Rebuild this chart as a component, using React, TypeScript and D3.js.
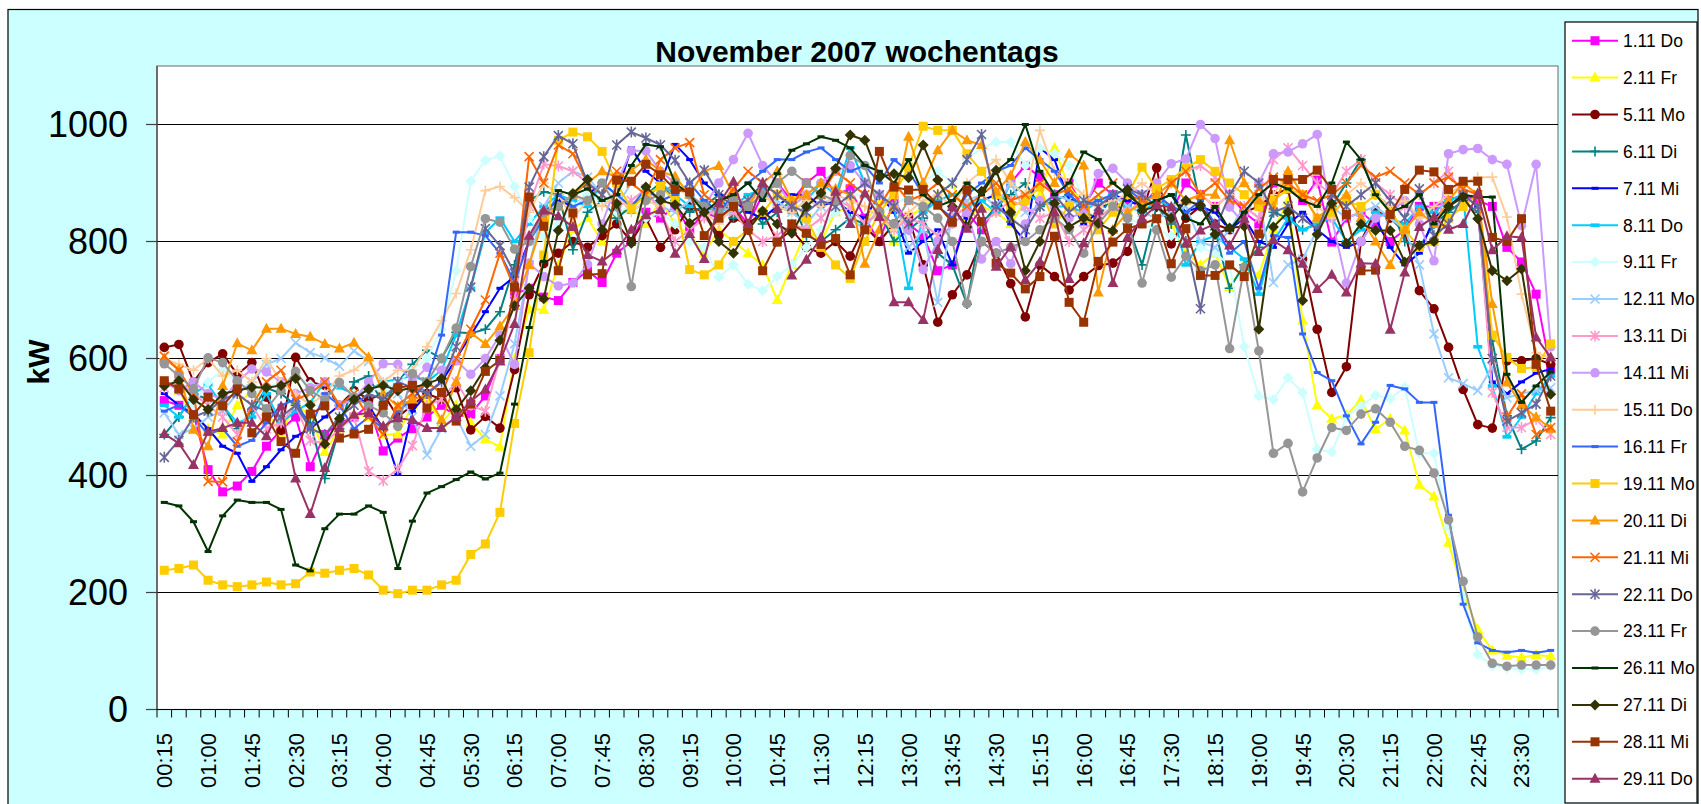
import * as d3 from "d3";

const times = [
  "00:15", "00:30", "00:45", "01:00", "01:15", "01:30", "01:45", "02:00", "02:15", "02:30", "02:45", "03:00",
  "03:15", "03:30", "03:45", "04:00", "04:15", "04:30", "04:45", "05:00", "05:15", "05:30", "05:45", "06:00",
  "06:15", "06:30", "06:45", "07:00", "07:15", "07:30", "07:45", "08:00", "08:15", "08:30", "08:45", "09:00",
  "09:15", "09:30", "09:45", "10:00", "10:15", "10:30", "10:45", "11:00", "11:15", "11:30", "11:45", "12:00",
  "12:15", "12:30", "12:45", "13:00", "13:15", "13:30", "13:45", "14:00", "14:15", "14:30", "14:45", "15:00",
  "15:15", "15:30", "15:45", "16:00", "16:15", "16:30", "16:45", "17:00", "17:15", "17:30", "17:45", "18:00",
  "18:15", "18:30", "18:45", "19:00", "19:15", "19:30", "19:45", "20:00", "20:15", "20:30", "20:45", "21:00",
  "21:15", "21:30", "21:45", "22:00", "22:15", "22:30", "22:45", "23:00", "23:15", "23:30", "23:45", "00:00",
];

const yTicks = [0, 200, 400, 600, 800, 1000];

const days = [
  "1.11 Do", "2.11 Fr", "5.11 Mo", "6.11 Di", "7.11 Mi", "8.11 Do", "9.11 Fr",
  "12.11 Mo", "13.11 Di", "14.11 Mi", "15.11 Do", "16.11 Fr", "19.11 Mo", "20.11 Di",
  "21.11 Mi", "22.11 Do", "23.11 Fr", "26.11 Mo", "27.11 Di", "28.11 Mi", "29.11 Do",
];

// kW per 15 minutes, 00:15 .. 24:00
const d0111 = [
  528, 520, 505, 410, 372, 382, 407, 450, 478, 500, 415, 470, 490, 500, 520, 442, 464, 480, 500, 520, 500, 505, 536, 600,
  710, 720, 705, 699, 730, 750, 730, 780, 800, 850, 840, 860, 820, 850, 840, 860, 830, 880, 900, 870, 900, 920, 880, 890,
  840, 800, 870, 830, 810, 750, 760, 850, 820, 860, 900, 930, 910, 880, 900, 860, 900, 880, 870, 860, 890, 850, 900, 880,
  860, 880, 850, 830, 900, 890, 870, 905, 799, 840, 850, 830, 800, 820, 860, 860, 870, 880, 870, 860, 790, 765, 710, 580,
];
const d0211 = [
  560, 545, 500, 480, 470, 520, 545, 510, 470, 525, 500, 440, 480, 505, 500, 470, 470, 520, 530, 490, 520, 490, 462, 449,
  600, 685, 683, 760, 820, 840, 800, 845, 860, 830, 870, 830, 810, 780, 820, 800, 780, 760, 700, 760, 820, 800, 850, 860,
  830, 870, 800, 840, 860, 880, 900, 840, 860, 850, 830, 870, 880, 960, 890, 870, 870, 860, 840, 880, 900, 830, 780, 760,
  780, 722, 760, 742, 820, 870, 665, 520, 497, 503, 529, 479, 497, 477, 384, 364, 285, 200, 137, 101, 92, 89, 93, 91,
];
const d0511 = [
  619, 624, 560, 593, 608, 573, 593, 534, 477, 602, 560, 554, 520, 545, 530, 540, 500, 520, 540, 530, 550, 478, 501, 481,
  581, 709, 762, 780, 800, 790, 810, 830, 800, 840, 790, 820, 860, 850, 810, 840, 830, 850, 800, 820, 790, 780, 800, 775,
  826, 800, 830, 842, 760, 662, 709, 743, 800, 780, 728, 671, 760, 740, 717, 740, 759, 763, 783, 850, 926, 796, 840, 860,
  830, 820, 850, 860, 880, 890, 770, 650, 542, 586, 800, 853, 840, 816, 716, 685, 619, 547, 487, 481, 596, 596, 600, 590,
];
const d0611 = [
  470, 500, 540, 530, 520, 480, 510, 550, 540, 520, 490, 395, 480, 560, 570, 520, 560, 590, 614, 600, 645, 643, 650, 680,
  760, 870, 885, 880, 786, 850, 870, 840, 860, 880, 900, 870, 850, 860, 880, 840, 860, 830, 850, 870, 810, 800, 820, 840,
  830, 850, 800, 820, 840, 780, 760, 693, 830, 860, 880, 900, 860, 870, 880, 850, 840, 880, 830, 760, 860, 830, 982, 860,
  820, 720, 760, 790, 850, 840, 820, 830, 860, 900, 940, 880, 860, 800, 790, 830, 850, 870, 850, 630, 502, 445, 459, 499,
];
const d0711 = [
  540, 520, 505, 480, 450, 438, 390, 415, 444, 467, 480, 500, 520, 540, 520, 480, 402, 510, 540, 560, 600, 640, 680, 720,
  740, 800, 850, 870, 860, 880, 900, 880, 960, 920, 900, 966, 940, 900, 880, 870, 850, 840, 860, 880, 880, 860, 870, 850,
  840, 880, 850, 780, 800, 820, 760, 840, 870, 880, 830, 800, 960, 940, 870, 830, 850, 880, 870, 860, 870, 880, 850, 860,
  850, 820, 840, 800, 790, 830, 850, 820, 800, 790, 800, 840, 790, 760, 780, 840, 860, 880, 860, 560, 540, 560, 575, 582,
];
const d0811 = [
  520, 500, 540, 555, 520, 490, 500, 540, 490, 510, 525, 560, 550, 540, 545, 560, 565, 570, 560, 580, 640, 720, 815, 840,
  800, 830, 860, 880, 870, 860, 900, 880, 850, 870, 900, 880, 860, 870, 850, 860, 880, 890, 860, 850, 870, 900, 880, 960,
  900, 880, 860, 720, 850, 870, 880, 860, 870, 850, 900, 880, 870, 860, 860, 850, 870, 880, 860, 850, 870, 860, 760, 800,
  810, 790, 770, 710, 800, 840, 820, 830, 840, 800, 820, 850, 840, 830, 860, 850, 870, 880, 620, 553, 466, 500, 540, 570,
];
const d0911 = [
  560, 545, 520, 560, 580, 560, 540, 550, 560, 570, 555, 520, 560, 540, 550, 545, 560, 580, 600, 650, 750, 903, 939, 946,
  894, 840, 807, 830, 860, 880, 870, 850, 860, 840, 850, 830, 800, 790, 739, 760, 727, 716, 740, 760, 790, 820, 850, 880,
  880, 850, 860, 880, 900, 920, 900, 940, 960, 970, 970, 930, 960, 950, 930, 870, 860, 850, 840, 830, 820, 810, 800, 790,
  780, 760, 620, 536, 530, 567, 542, 445, 440, 500, 519, 537, 531, 551, 438, 438, 311, 194, 94, 75, 71, 69, 69, 74,
];
const d1211 = [
  507, 470, 480, 500, 510, 540, 560, 590, 600, 627, 610, 601, 587, 613, 595, 560, 540, 500, 435, 480, 500, 450, 470, 536,
  625, 760, 860, 900, 920, 910, 880, 860, 900, 880, 860, 850, 870, 860, 840, 850, 860, 880, 870, 850, 830, 860, 880, 840,
  820, 860, 880, 790, 820, 696, 850, 870, 880, 860, 900, 850, 860, 880, 870, 860, 870, 880, 860, 850, 840, 850, 860, 800,
  790, 820, 860, 880, 730, 760, 770, 820, 860, 840, 850, 860, 840, 820, 760, 642, 567, 557, 545, 585, 533, 540, 545, 550,
];
const d1311 = [
  550, 560, 540, 520, 500, 470, 520, 480, 490, 520, 460, 455, 480, 500, 407, 391, 411, 451, 520, 530, 560, 520, 510, 600,
  700, 860, 932, 929, 920, 900, 880, 860, 870, 890, 850, 800, 820, 840, 860, 850, 820, 800, 810, 830, 820, 840, 870, 860,
  830, 850, 820, 840, 830, 810, 840, 860, 830, 850, 870, 860, 840, 850, 800, 820, 840, 860, 850, 870, 880, 900, 920, 930,
  910, 880, 860, 840, 940, 960, 930, 900, 880, 920, 940, 900, 880, 860, 880, 900, 920, 880, 860, 542, 482, 482, 496, 470,
];
const d1411 = [
  560, 545, 560, 540, 530, 560, 582, 577, 560, 540, 550, 560, 520, 530, 560, 591, 590, 560, 585, 580, 596, 573, 600, 640,
  590, 763, 740, 724, 729, 761, 830, 900, 955, 955, 920, 900, 880, 860, 900, 940, 985, 930, 900, 860, 880, 900, 920, 930,
  900, 880, 860, 820, 752, 800, 830, 850, 770, 800, 762, 830, 870, 860, 840, 850, 916, 925, 900, 880, 900, 933, 941, 1000,
  976, 859, 830, 900, 950, 953, 967, 983, 840, 729, 800, 840, 850, 870, 830, 767, 950, 957, 959, 940, 932, 827, 932, 620,
];
const d1511 = [
  600, 590, 580, 600, 570, 580, 560, 600, 560, 540, 520, 540, 570, 580, 600, 560, 580, 580, 620, 665, 711, 786, 887, 894,
  875, 850, 900, 880, 840, 870, 860, 880, 850, 870, 860, 890, 880, 850, 830, 860, 870, 880, 860, 850, 870, 860, 880, 870,
  860, 840, 820, 850, 870, 880, 860, 900, 920, 940, 900, 880, 990, 920, 900, 880, 860, 870, 880, 900, 880, 860, 870, 880,
  860, 880, 900, 870, 880, 920, 880, 860, 840, 880, 900, 880, 860, 870, 840, 860, 880, 900, 910, 910, 842, 710, 610, 600,
];
const d1611 = [
  510, 520, 500, 470, 480, 450, 460, 490, 520, 530, 480, 540, 520, 480, 500, 480, 510, 530, 560, 640, 816, 816, 810, 780,
  730, 800, 840, 880, 860, 870, 900, 880, 860, 890, 870, 880, 900, 870, 850, 880, 900, 920, 940, 940, 953, 960, 940, 920,
  930, 900, 940, 920, 880, 860, 840, 880, 900, 920, 930, 960, 940, 920, 880, 860, 870, 880, 890, 870, 880, 860, 850, 870,
  830, 780, 800, 720, 810, 807, 642, 576, 562, 502, 454, 491, 554, 548, 525, 525, 332, 180, 114, 101, 98, 101, 97, 101,
];
const d1911 = [
  238, 241, 247, 221, 213, 210, 213, 218, 213, 215, 235, 233, 238, 241, 230, 204, 198, 204, 204, 213, 221, 265, 283, 337,
  489, 610, 777, 973, 987, 979, 954, 900, 856, 880, 894, 870, 752, 743, 760, 800, 820, 850, 880, 870, 840, 790, 760, 737,
  800, 850, 880, 927, 997, 990, 990, 950, 920, 880, 860, 870, 893, 830, 860, 840, 820, 850, 880, 927, 890, 906, 926, 940,
  920, 900, 880, 860, 870, 890, 880, 840, 850, 870, 860, 880, 850, 820, 790, 800, 840, 860, 880, 640, 602, 583, 585, 625,
];
const d2011 = [
  600, 581, 478, 450, 553, 626, 614, 651, 651, 642, 637, 625, 617, 627, 602, 540, 518, 530, 538, 495, 560, 644, 625, 655,
  690, 760, 840, 860, 880, 900, 920, 910, 922, 940, 920, 911, 880, 920, 929, 880, 860, 900, 920, 870, 880, 900, 890, 880,
  762, 820, 860, 979, 900, 956, 990, 973, 965, 885, 913, 970, 939, 900, 950, 930, 713, 820, 850, 865, 880, 900, 870, 880,
  880, 973, 900, 870, 860, 920, 880, 840, 860, 880, 840, 800, 760, 820, 850, 830, 870, 900, 880, 693, 559, 520, 500, 480,
];
const d2111 = [
  604, 580, 540, 390, 389, 458, 520, 560, 580, 530, 540, 560, 520, 540, 500, 470, 520, 540, 560, 540, 600, 650, 700, 780,
  720, 945, 900, 965, 950, 900, 880, 920, 900, 880, 940, 960, 969, 880, 860, 890, 920, 900, 880, 860, 900, 880, 920, 900,
  880, 860, 900, 870, 880, 900, 880, 860, 880, 900, 870, 880, 900, 880, 890, 860, 880, 900, 880, 870, 860, 900, 920, 880,
  900, 870, 860, 890, 910, 900, 880, 870, 880, 900, 930, 910, 920, 900, 880, 900, 910, 890, 880, 600, 500, 539, 470, 482,
];
const d2211 = [
  431, 460, 500, 510, 530, 540, 520, 510, 500, 520, 480, 470, 500, 520, 540, 530, 560, 550, 540, 560, 620, 722, 822, 793,
  746, 893, 945, 981, 967, 900, 880, 965, 987, 977, 965, 939, 900, 922, 880, 860, 870, 900, 880, 860, 850, 870, 860, 880,
  900, 880, 860, 830, 850, 880, 900, 940, 983, 860, 840, 820, 860, 880, 850, 870, 860, 880, 890, 880, 860, 840, 800, 685,
  820, 880, 920, 900, 850, 860, 840, 820, 880, 860, 880, 900, 870, 840, 890, 810, 830, 880, 860, 600, 493, 507, 522, 570,
];
const d2311 = [
  591, 570, 548, 601, 593, 562, 540, 514, 545, 578, 545, 530, 559, 534, 520, 507, 484, 574, 560, 600, 652, 757, 839, 833,
  787, 800, 850, 860, 880, 870, 900, 860, 723, 870, 880, 900, 880, 860, 850, 870, 860, 880, 900, 920, 900, 880, 870, 947,
  930, 850, 830, 870, 860, 840, 800, 694, 800, 780, 790, 800, 820, 840, 820, 780, 830, 860, 840, 729, 820, 739, 775, 750,
  760, 617, 756, 613, 438, 455, 372, 430, 482, 477, 505, 514, 491, 450, 443, 404, 324, 219, 124, 79, 74, 76, 76, 76,
];
const d2611 = [
  354, 348, 321, 270, 331, 358, 354, 354, 342, 247, 237, 309, 334, 334, 348, 337, 241, 322, 370, 381, 393, 406, 394, 404,
  522, 653, 766, 887, 880, 890, 870, 880, 930, 966, 962, 900, 880, 850, 870, 880, 900, 870, 916, 956, 967, 979, 973, 960,
  930, 920, 900, 940, 880, 860, 870, 900, 880, 920, 940, 1000, 920, 880, 900, 953, 940, 900, 880, 860, 870, 880, 840, 830,
  860, 820, 850, 880, 900, 890, 870, 860, 900, 970, 940, 880, 850, 860, 880, 830, 860, 880, 876, 876, 573, 525, 553, 577,
];
const d2711 = [
  553, 562, 530, 513, 540, 545, 551, 550, 554, 566, 520, 454, 497, 530, 548, 554, 545, 550, 557, 566, 513, 545, 584, 631,
  690, 720, 702, 819, 882, 906, 820, 865, 797, 893, 870, 863, 831, 850, 800, 780, 820, 852, 830, 814, 860, 883, 925, 982,
  973, 910, 916, 909, 965, 905, 860, 825, 886, 922, 850, 750, 800, 865, 825, 840, 831, 818, 889, 853, 860, 840, 870, 862,
  812, 823, 826, 650, 825, 850, 699, 812, 865, 797, 830, 819, 819, 765, 793, 800, 860, 876, 839, 750, 733, 753, 599, 539,
];
const d2811 = [
  562, 548, 504, 534, 519, 548, 473, 500, 458, 438, 505, 519, 464, 471, 479, 520, 550, 554, 515, 542, 493, 522, 578, 597,
  722, 876, 826, 750, 849, 743, 745, 905, 903, 932, 914, 889, 885, 810, 840, 860, 820, 750, 799, 830, 814, 795, 805, 743,
  820, 954, 893, 888, 889, 862, 833, 888, 834, 763, 746, 719, 740, 809, 696, 662, 766, 799, 822, 830, 839, 762, 822, 742,
  742, 760, 740, 813, 906, 906, 906, 922, 889, 846, 750, 751, 846, 889, 922, 919, 889, 903, 903, 807, 800, 839, 590, 510,
];
const d2911 = [
  471, 455, 418, 475, 481, 490, 490, 467, 518, 395, 334, 413, 481, 504, 507, 484, 498, 495, 481, 481, 500, 527, 547, 595,
  659, 810, 853, 843, 825, 777, 766, 785, 820, 845, 854, 779, 813, 770, 865, 902, 830, 900, 856, 742, 769, 807, 885, 830,
  882, 842, 696, 696, 666, 786, 859, 822, 856, 757, 791, 734, 765, 850, 736, 797, 853, 729, 807, 839, 862, 859, 796, 819,
  830, 793, 839, 782, 802, 785, 762, 719, 743, 713, 763, 762, 649, 747, 825, 842, 820, 830, 882, 785, 809, 807, 636, 602,
];

const values = [
  d0111, d0211, d0511, d0611, d0711, d0811, d0911, d1211, d1311, d1411, d1511,
  d1611, d1911, d2011, d2111, d2211, d2311, d2611, d2711, d2811, d2911,
];

const colors = [
  "#FF00FF", "#FFFF00", "#800000", "#008080", "#0000FF", "#00CCFF", "#CCFFFF",
  "#99CCFF", "#FF99CC", "#CC99FF", "#FFCC99", "#3366FF", "#FFCC00", "#FF9900",
  "#FF6600", "#666699", "#969696", "#003300", "#333300", "#993300", "#993366",
];
const markers = [
  "square", "triangle", "circle", "plus", "dash", "bar", "diamond",
  "x", "star", "circle", "plus", "dash", "square", "triangle",
  "x", "star", "circle", "dash", "diamond", "square", "triangle",
];

const FONT = "Arial, 'Liberation Sans', sans-serif";

function Marker({ kind, cx, cy, color }: { kind: string; cx: number; cy: number; color: string }) {
  switch (kind) {
    case "square":
      return <rect x={cx - 4.5} y={cy - 4.5} width={9} height={9} fill={color} />;
    case "triangle":
      return <path d={`M${cx},${cy - 6}L${cx + 5.5},${cy + 4}L${cx - 5.5},${cy + 4}Z`} fill={color} />;
    case "circle":
      return <circle cx={cx} cy={cy} r={4.8} fill={color} />;
    case "diamond":
      return <path d={`M${cx},${cy - 5.5}L${cx + 5.5},${cy}L${cx},${cy + 5.5}L${cx - 5.5},${cy}Z`} fill={color} />;
    case "plus":
      return <path d={`M${cx - 5},${cy}H${cx + 5}M${cx},${cy - 5}V${cy + 5}`} stroke={color} strokeWidth={1.6} />;
    case "x":
      return <path d={`M${cx - 4.5},${cy - 4.5}L${cx + 4.5},${cy + 4.5}M${cx - 4.5},${cy + 4.5}L${cx + 4.5},${cy - 4.5}`} stroke={color} strokeWidth={1.6} />;
    case "star":
      return <path d={`M${cx - 4.5},${cy - 4.5}L${cx + 4.5},${cy + 4.5}M${cx - 4.5},${cy + 4.5}L${cx + 4.5},${cy - 4.5}M${cx},${cy - 5.5}V${cy + 5.5}`} stroke={color} strokeWidth={1.6} />;
    case "dash":
      return <rect x={cx - 3.5} y={cy - 1.5} width={7} height={3} fill={color} />;
    case "bar":
      return <rect x={cx - 4.5} y={cy - 1.8} width={9} height={3.6} fill={color} />;
    default:
      return null;
  }
}

export default function App() {
  const left = 157, right = 1558, top = 66, bottom = 709.5;
  const x = d3.scaleBand<number>().domain(d3.range(times.length)).range([left, right]);
  const y = d3.scaleLinear().domain([0, 1100]).range([bottom, top]);
  const cx = (i: number) => (x(i) ?? 0) + x.bandwidth() / 2;
  const line = d3.line<number>().x((_, i) => cx(i)).y((d) => y(d));

  const legendTop = 40.7, legendStep = 36.9;

  return (
    <svg width={1701} height={804} style={{ position: "absolute", left: 0, top: 0 }} fontFamily={FONT}>
      <rect x={0} y={0} width={1701} height={804} fill="#fff" />
      <rect x={8} y={9.5} width={1690} height={800} fill="#CCFFFF" stroke="#000" strokeWidth={1.2} />

      {/* plot area */}
      <rect x={left} y={top} width={right - left} height={bottom - top} fill="#fff" stroke="#808080" strokeWidth={1.2} />
      {yTicks.filter((t) => t > 0).map((t) => (
        <line key={t} x1={left} x2={right} y1={y(t)} y2={y(t)} stroke="#000" strokeWidth={1} />
      ))}

      {/* axes */}
      <line x1={left} x2={left} y1={top} y2={bottom} stroke="#404040" strokeWidth={1.2} />
      <line x1={left} x2={right} y1={bottom} y2={bottom} stroke="#000" strokeWidth={1.2} />
      {yTicks.map((t) => (
        <g key={t}>
          <line x1={left - 11} x2={left} y1={y(t)} y2={y(t)} stroke="#404040" strokeWidth={1.2} />
          <text x={128} y={y(t)} dy="0.36em" textAnchor="end" fontSize={36} fill="#000">
            {t}
          </text>
        </g>
      ))}
      {d3.range(times.length + 1).map((i) => {
        const xx = left + i * x.bandwidth();
        return <line key={i} x1={xx} x2={xx} y1={bottom} y2={bottom + 8} stroke="#000" strokeWidth={1} />;
      })}
      {times.map((t, i) =>
        i % 3 === 0 ? (
          <text key={i} transform={`translate(${cx(i)},733) rotate(-90)`} dy="0.36em" textAnchor="end" fontSize={22} fill="#000">
            {t}
          </text>
        ) : null,
      )}

      <text transform="translate(38,362) rotate(-90)" dy="0.36em" textAnchor="middle" fontSize={30} fontWeight="bold">
        kW
      </text>
      <text x={857} y={62} textAnchor="middle" fontSize={30} fontWeight="bold">
        November 2007 wochentags
      </text>

      {/* series */}
      {values.map((vals, s) => (
        <g key={days[s]}>
          <path d={line(vals) ?? ""} fill="none" stroke={colors[s]} strokeWidth={2} strokeLinejoin="round" />
          {vals.map((v, i) => (
            <Marker key={i} kind={markers[s]} cx={cx(i)} cy={y(v)} color={colors[s]} />
          ))}
        </g>
      ))}

      {/* legend */}
      <rect x={1565} y={22} width={132} height={781} fill="#fff" stroke="#000" strokeWidth={1.2} />
      {days.map((d, k) => {
        const ly = legendTop + k * legendStep;
        return (
          <g key={d}>
            <line x1={1572} x2={1618} y1={ly} y2={ly} stroke={colors[k]} strokeWidth={2} />
            <Marker kind={markers[k]} cx={1595} cy={ly} color={colors[k]} />
            <text x={1623} y={ly} dy="0.36em" fontSize={17.5} fill="#000">
              {d}
            </text>
          </g>
        );
      })}
    </svg>
  );
}
